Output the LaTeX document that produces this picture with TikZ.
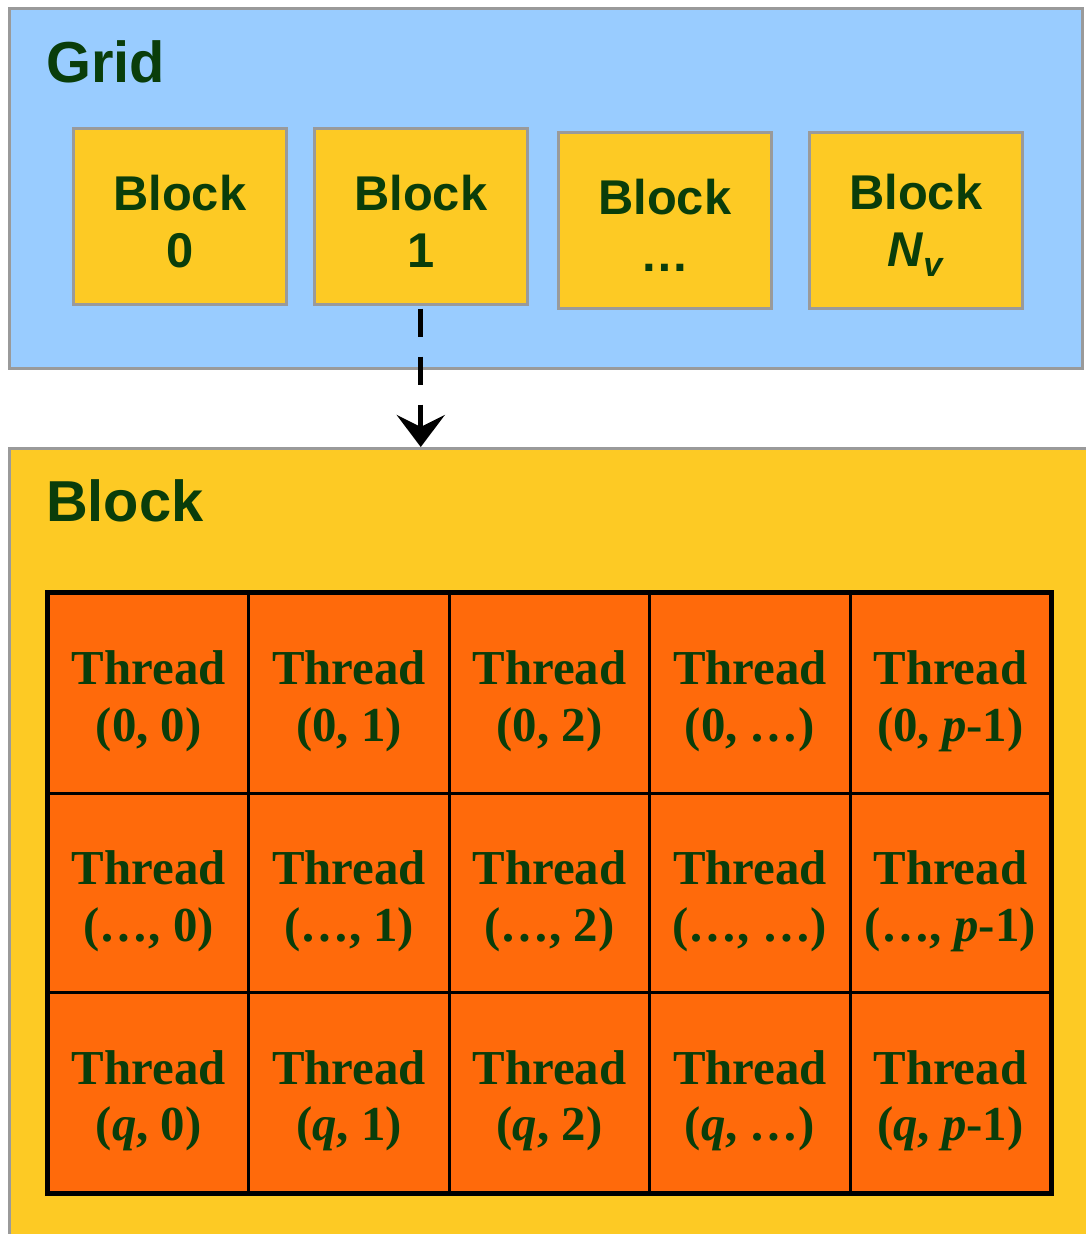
\documentclass[tikz,border=0pt]{standalone}
\usepackage{fontspec}
\setmainfont{Liberation Serif}
\setsansfont{Liberation Sans}
\usetikzlibrary{arrows.meta}
\definecolor{gridblue}{HTML}{99CCFF}
\definecolor{blkyellow}{HTML}{FDCA24}
\definecolor{throrange}{HTML}{FF6A0B}
\definecolor{txtgreen}{HTML}{0A3D0A}
\definecolor{edgegrey}{HTML}{9A9A9A}
\begin{document}
\begin{tikzpicture}[x=1bp,y=-1bp,
  panel/.style={draw=edgegrey, line width=2.5bp, anchor=north west, inner sep=0pt},
  blockbox/.style={draw=edgegrey, line width=2.5bp, fill=blkyellow, minimum width=213bp, minimum height=176bp, anchor=north west, inner sep=0pt},
  blocktext/.style={inner sep=0pt, align=center, text=txtgreen, font=\sffamily\bfseries\fontsize{49}{57}\selectfont},
  title/.style={anchor=base west, inner sep=0pt, text=txtgreen, font=\sffamily\bfseries\fontsize{58}{70}\selectfont},
  threadcell/.style={draw=black, line width=3bp, fill=throrange, minimum width=200.4bp, minimum height=199.7bp, inner sep=0pt, anchor=north west},
  threadtext/.style={inner sep=0pt, align=center, text=txtgreen, font=\rmfamily\bfseries\fontsize{49}{57}\selectfont},
]
\clip (0,0) rectangle (1086,1234);
\fill[white] (0,0) rectangle (1086,1234);
% panels
\node[panel, fill=gridblue, minimum width=1073bp, minimum height=360bp] (grid) at (8,7) {};
\node[panel, fill=blkyellow, minimum width=1100bp, minimum height=820bp] (blk) at (8,447) {};
% titles
\node[title] (gridtitle) at (46,82) {Grid};
\node[title] (blktitle) at (46,521) {Block};
% blocks
\node[blockbox] (b0) at (72,127) {};
\node[blockbox] (b1) at (313,127) {};
\node[blockbox] (b2) at (557,131) {};
\node[blockbox] (b3) at (808,131) {};
\node[blocktext] (b0t) at ([yshift=-5bp]b0.center) {Block\\0};
\node[blocktext] (b1t) at ([yshift=-5bp]b1.center) {Block\\1};
\node[blocktext] (b2t) at ([yshift=-5bp]b2.center) {Block\\…};
\node[blocktext] (b3t) at ([yshift=-5bp]b3.center) {Block\\\textit{N}\textsubscript{\textit{v}}};
% arrow
\draw[line width=5bp, dash pattern=on 28bp off 20bp, -{Stealth[length=32bp,width=48bp,inset=12bp]}] ([yshift=-3bp]b1.south) -- (b1.south |- blk.north);
% threads
\foreach \r/\rl in {0/0, 1/…, 2/\textit{q}} {
  \foreach \c/\cl in {0/0, 1/1, 2/2, 3/…, 4/\textit{p}-1} {
    \node[threadcell] (t\r\c) at (47+200.4*\c, 592+199.7*\r) {};
    \node[threadtext] (l\r\c) at ([yshift=-8bp]t\r\c.center) {Thread\\(\rl, \cl)};
  }
}
\draw[line width=4bp] (t00.north west) rectangle (t24.south east);
\end{tikzpicture}
\end{document}
